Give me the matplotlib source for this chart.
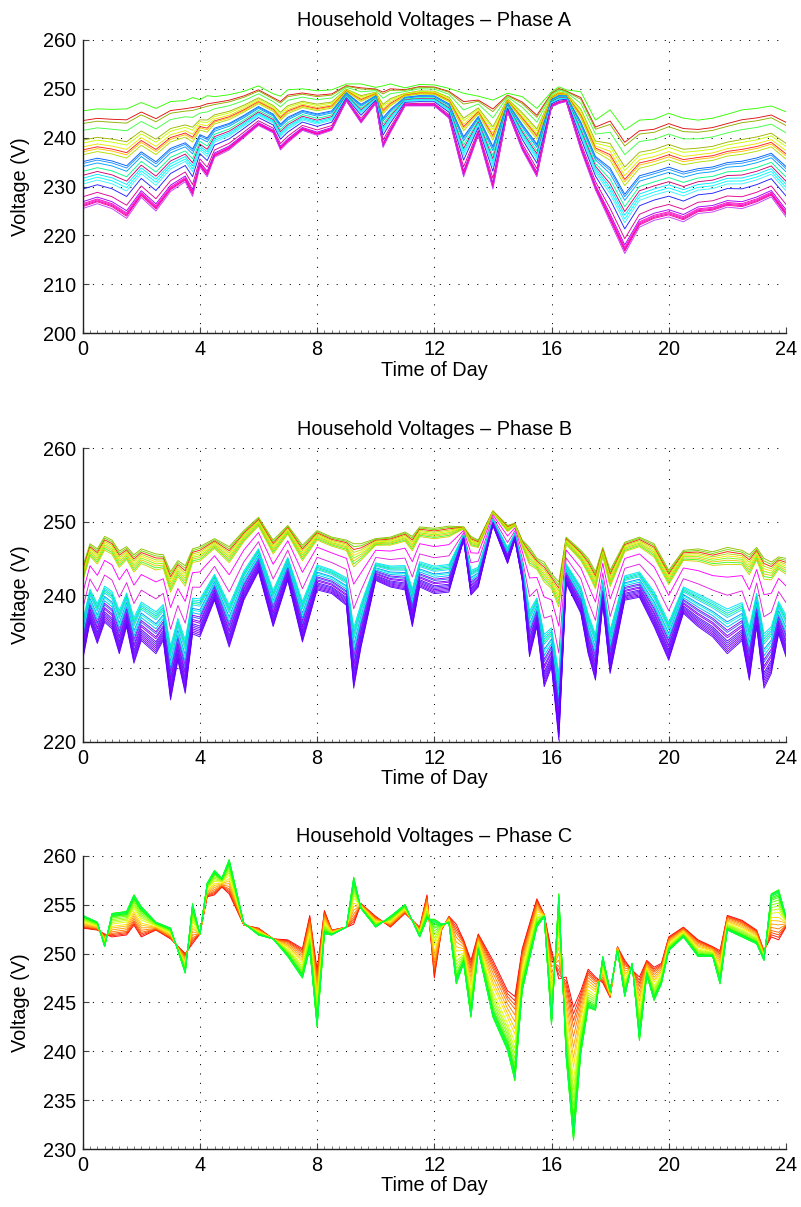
import matplotlib
matplotlib.use('Agg')
import numpy as np
import matplotlib.pyplot as plt
from matplotlib.ticker import MultipleLocator

plt.rcParams['font.family'] = ['Liberation Sans', 'DejaVu Sans']

# ---- Phase A: upper / lower envelope
a_t = [0, 0.5, 1, 1.5, 2, 2.5, 3, 3.5, 3.75, 4, 4.25, 4.5, 5, 5.5, 6, 6.5, 6.75, 7, 7.5, 8,
       8.5, 9, 9.5, 10, 10.25, 10.5, 11, 11.5, 12, 12.5, 13, 13.5, 14, 14.5, 15, 15.5, 16,
       16.25, 16.5, 17, 17.5, 18, 18.5, 19, 19.5, 20, 20.5, 21, 21.5, 22, 22.5, 23, 23.5, 24]
a_high = [245.5, 245.9, 245.8, 245.9, 247.2, 246.0, 247.4, 247.6, 248.2, 247.8, 248.6, 248.4,
          248.8, 249.5, 250.6, 249.0, 248.5, 249.8, 250.0, 249.6, 249.8, 251.0, 251.0, 250.3,
          250.6, 251.0, 250.2, 250.9, 250.8, 250.1, 249.1, 248.5, 247.7, 249.1, 248.4, 246.0,
          249.4, 250.4, 249.8, 249.4, 243.6, 245.7, 241.6, 243.6, 243.8, 245.0, 244.0, 243.6,
          244.0, 244.8, 245.7, 246.0, 246.5, 245.3]
a_low = [225.5, 226.5, 225.5, 223.5, 227.8, 225.0, 229.0, 231.0, 228.0, 234.0, 232.0, 236.0,
         237.5, 240.0, 242.5, 241.0, 237.5, 239.0, 241.5, 240.5, 241.5, 247.5, 243.0, 247.0,
         238.0, 241.0, 246.5, 246.5, 246.5, 244.0, 232.0, 240.5, 229.5, 245.3, 237.5, 232.0,
         246.3, 247.0, 247.4, 237.5, 229.3, 222.8, 216.3, 221.7, 223.1, 223.8, 222.8, 224.5,
         224.8, 225.8, 225.5, 226.5, 227.9, 223.8]
a_pos = [1.0, 0.9, 0.87, 0.8, 0.7, 0.67, 0.63, 0.6, 0.58, 0.55, 0.48, 0.46, 0.43, 0.38,
         0.34, 0.31, 0.28, 0.25, 0.2, 0.12, 0.07, 0.05, 0.04, 0.03, 0.02, 0.0]
a_col = ['#33ff00', '#e01010', '#90b000', '#40ff40', '#a0b800', '#c8ff00', '#e8e800',
         '#ff2020', '#ffc000', '#b0e000', '#0060ff', '#2090ff', '#00a0ff', '#00ff90',
         '#d00070', '#00e8ff', '#00ffff', '#40f0ff', '#2020ff', '#e00090', '#a000ff',
         '#ff00c0', '#ff20d0', '#f000b0', '#ff00a0', '#c040ff']

# ---- Phase B
b_t = [0, 0.25, 0.5, 0.75, 1, 1.25, 1.5, 1.75, 2, 2.5, 2.75, 3, 3.25, 3.5, 3.75, 4, 4.5, 5,
       5.5, 6, 6.5, 7, 7.5, 8, 8.5, 9, 9.25, 9.5, 10, 10.5, 11, 11.25, 11.5, 12, 12.5, 13,
       13.25, 13.5, 14, 14.5, 14.75, 15, 15.25, 15.5, 15.75, 16, 16.25, 16.5, 17, 17.25,
       17.5, 17.75, 18, 18.5, 19, 19.5, 20, 20.5, 21, 21.5, 22, 22.5, 22.75, 23, 23.25,
       23.5, 23.75, 24]
b_high = [243.8, 247.0, 246.3, 248.0, 247.5, 246.0, 246.6, 245.5, 246.3, 245.6, 245.5, 243.2,
          244.7, 244.0, 246.3, 246.6, 247.7, 246.6, 248.8, 250.6, 247.5, 249.5, 246.8, 248.8,
          247.9, 247.5, 247.0, 247.0, 247.7, 247.9, 248.6, 248.0, 249.3, 249.1, 249.4, 249.3,
          248.0, 247.5, 251.5, 249.5, 249.8, 247.5, 246.5, 245.0, 244.5, 242.9, 241.8, 247.9,
          246.1, 245.0, 243.2, 246.5, 243.4, 247.2, 247.9, 247.0, 243.4, 246.1, 246.3, 245.9,
          246.5, 246.1, 245.5, 246.5, 245.0, 244.5, 245.2, 245.0]
b_low = [231.1, 236.3, 233.4, 236.3, 235.4, 232.0, 235.7, 230.7, 233.8, 232.0, 233.8, 225.7,
         231.1, 226.6, 234.7, 234.3, 239.3, 232.9, 239.3, 243.2, 235.7, 242.0, 233.6, 240.7,
         240.2, 238.6, 227.3, 232.9, 242.0, 241.1, 240.7, 235.7, 241.1, 240.2, 240.4, 247.5,
         240.0, 241.1, 249.5, 244.3, 247.5, 242.0, 231.6, 235.7, 227.5, 230.2, 220.2, 241.6,
         237.5, 232.0, 228.4, 238.8, 229.3, 239.3, 239.7, 235.7, 231.1, 237.5, 235.7, 234.3,
         232.0, 233.8, 228.4, 235.7, 227.3, 229.3, 234.7, 231.6]
b_pos = [1.0, 0.98, 0.96, 0.94, 0.92, 0.9, 0.88, 0.86, 0.84, 0.72, 0.55, 0.42, 0.4, 0.38,
         0.36, 0.34, 0.3, 0.28, 0.25, 0.22, 0.2, 0.17, 0.15, 0.12, 0.1, 0.08, 0.06, 0.04,
         0.02, 0.0]
b_col = ['#90c000', '#70d800', '#ff2000', '#b0e000', '#ffe000', '#80ff00', '#f0c000',
         '#40ff20', '#d0d000', '#ff00ff', '#e020e0', '#00e0ff', '#00ffc0', '#00c8ff',
         '#00ff80', '#20d0ff', '#0090ff', '#00ffe0', '#00b0ff', '#8000ff', '#4060ff',
         '#7000ff', '#9000ff', '#6000ff', '#5020ff', '#7010ff', '#6800ff', '#8a00ff',
         '#5a00ff', '#6000ff']

# ---- Phase C: red-side and green-side curves
c_t = [0, 0.5, 0.75, 1, 1.5, 1.75, 2, 2.5, 3, 3.5, 3.75, 4, 4.25, 4.5, 4.75, 5, 5.5, 6, 6.5,
       7, 7.5, 7.75, 8, 8.25, 8.5, 9, 9.25, 9.5, 10, 10.5, 11, 11.5, 11.75, 12, 12.25, 12.5,
       12.75, 13, 13.25, 13.5, 14, 14.5, 14.75, 15, 15.5, 15.75, 16, 16.25, 16.5, 16.75, 17,
       17.25, 17.5, 17.75, 18, 18.25, 18.5, 18.75, 19, 19.25, 19.5, 19.75, 20, 20.5, 21,
       21.5, 21.75, 22, 22.5, 23, 23.25, 23.5, 23.75, 24]
c_green = [253.9, 253.2, 250.7, 254.1, 254.3, 256.0, 254.8, 253.2, 252.6, 248.0, 255.1, 252.0,
           257.2, 258.5, 257.7, 259.6, 253.1, 251.9, 251.5, 249.7, 247.5, 250.5, 242.5, 252.0,
           251.9, 252.7, 257.8, 254.6, 252.7, 253.8, 255.0, 251.7, 253.5, 253.5, 253.0, 253.1,
           246.9, 249.0, 243.5, 250.3, 243.5, 240.1, 237.0, 246.2, 252.7, 253.8, 242.7, 256.1,
           239.4, 230.9, 239.8, 244.5, 244.2, 249.7, 246.2, 250.3, 245.6, 249.0, 241.1, 247.8,
           245.2, 246.9, 250.3, 251.7, 249.7, 249.7, 246.9, 252.4, 251.7, 251.0, 249.3, 256.1,
           256.5, 253.8]
c_red = [252.6, 252.4, 252.0, 251.7, 251.9, 252.9, 251.7, 252.4, 251.5, 250.0, 251.0, 252.0,
         255.8, 256.0, 256.8, 256.1, 252.9, 252.6, 251.5, 251.4, 250.5, 253.9, 248.3, 254.4,
         252.4, 252.7, 253.0, 255.1, 253.8, 252.7, 254.1, 252.7, 256.0, 247.5, 252.4, 253.8,
         253.0, 251.4, 249.3, 252.0, 249.3, 246.2, 245.6, 250.5, 255.6, 254.0, 250.3, 247.4,
         247.6, 244.5, 246.2, 248.4, 247.6, 247.0, 245.5, 250.7, 249.3, 248.3, 247.6, 249.3,
         248.6, 249.0, 251.7, 252.7, 251.4, 250.7, 250.3, 253.9, 253.4, 252.4, 250.3, 251.7,
         251.4, 252.7]
c_pos = [0.0, 0.05, 0.1, 0.15, 0.22, 0.3, 0.38, 0.45, 0.55, 0.62, 0.68, 0.74, 0.8, 0.85,
         0.88, 0.91, 0.94, 0.96, 0.98, 1.0, 1.0, 0.97]
c_col = ['#ff0000', '#ff2000', '#ff4000', '#ff6000', '#ff8000', '#ffa000', '#ffc000',
         '#ffe000', '#e0ff00', '#c0ff00', '#a0ff00', '#80ff00', '#60ff00', '#40ff00',
         '#20ff00', '#00ff00', '#10ff20', '#00ff40', '#30ff30', '#00ff00', '#20ff00', '#00ff60']

panels = [
    ('Household Voltages \u2013 Phase A', a_t, a_low, a_high, a_pos, a_col, (200, 260), 10),
    ('Household Voltages \u2013 Phase B', b_t, b_low, b_high, b_pos, b_col, (220, 260), 10),
    ('Household Voltages \u2013 Phase C', c_t, c_red, c_green, c_pos, c_col, (230, 260), 5),
]

fig = plt.figure(figsize=(8.01, 12.07), dpi=100)
bottoms = [0.7239, 0.3855, 0.0480]
fs = 14.3

for (title, t, lo, hi, pos, cols, ylim, ystep), bot in zip(panels, bottoms):
    ax = fig.add_axes([0.1032, bot, 0.878, 0.2430])
    lo = np.array(lo)
    hi = np.array(hi)
    for w, c in zip(pos, cols):
        ax.plot(t, lo + w * (hi - lo), color=c, lw=0.65)
    ax.set_xlim(0, 24)
    ax.set_ylim(*ylim)
    ax.xaxis.set_major_locator(MultipleLocator(4))
    ax.xaxis.set_minor_locator(MultipleLocator(0.25))
    ax.yaxis.set_major_locator(MultipleLocator(ystep))
    ax.grid(True, which='major', color='black', lw=0.75, linestyle=(0, (1, 8)))
    for s in ['top', 'right']:
        ax.spines[s].set_visible(False)
    for s in ['left', 'bottom']:
        ax.spines[s].set_linewidth(1.0)
        ax.spines[s].set_color('#222222')
    ax.tick_params(which='major', direction='in', length=4, width=0.8, labelsize=fs,
                   pad=5, color='#444444', top=False, right=False)
    ax.tick_params(which='minor', direction='in', length=2, width=0.6, color='#666666')
    ax.tick_params(axis='y', which='minor', left=False)
    ax.set_title(title, fontsize=fs, pad=10)
    ax.set_xlabel('Time of Day', fontsize=fs, labelpad=1)
    ax.set_ylabel('Voltage (V)', fontsize=fs, labelpad=9)

fig.savefig('out.png', dpi=100)
